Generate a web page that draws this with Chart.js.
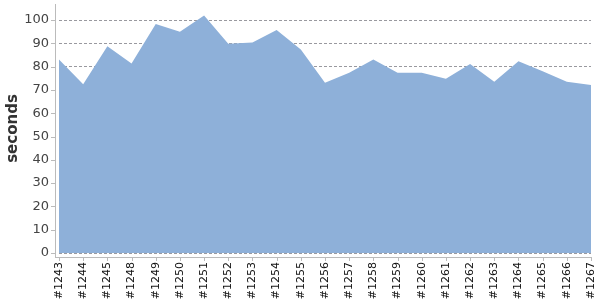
<!DOCTYPE html>
<html>
<head>
<meta charset="utf-8">
<script src="https://cdn.jsdelivr.net/npm/chart.js@4/dist/chart.umd.min.js"></script>
<style>
  html, body { margin: 0; padding: 0; background: #fff; }
  #wrap { width: 600px; height: 300px; }
</style>
</head>
<body>
<div id="wrap"><canvas id="c" width="600" height="300"></canvas></div>
<script>
const categories = ["#1243","#1244","#1245","#1248","#1249","#1250","#1251","#1252","#1253","#1254","#1255","#1256","#1257","#1258","#1259","#1260","#1261","#1262","#1263","#1264","#1265","#1266","#1267"];
const seconds = [83.1, 72.5, 88.8, 81.4, 98.3, 95.0, 102.0, 89.8, 90.4, 95.7, 87.4, 73.1, 77.4, 83.1, 77.4, 77.4, 74.8, 81.1, 73.5, 82.3, 78.0, 73.5, 72.1];
const yTicks = [0, 10, 20, 30, 40, 50, 60, 70, 80, 90, 100];
const yTitle = "seconds";

const axisPlugin = {
  id: 'axisLines',
  afterDraw(chart) {
    const ctx = chart.ctx;
    const a = chart.chartArea;
    const xs = chart.scales.x, ys = chart.scales.y;
    const ax = a.left - 4, ay = a.bottom + 4;
    ctx.save();
    ctx.strokeStyle = '#bbbbbb';
    ctx.lineWidth = 1;
    ctx.beginPath();
    ctx.moveTo(ax + 0.5, a.top);
    ctx.lineTo(ax + 0.5, ay + 0.5);
    ctx.moveTo(ax, ay + 0.5);
    ctx.lineTo(a.right, ay + 0.5);
    categories.forEach((c, i) => {
      const px = Math.round(xs.getPixelForValue(i)) + 0.5;
      ctx.moveTo(px, ay);
      ctx.lineTo(px, ay + 4);
    });
    yTicks.forEach(v => {
      const py = Math.round(ys.getPixelForValue(v)) + 0.5;
      ctx.moveTo(ax - 4, py);
      ctx.lineTo(ax, py);
    });
    ctx.stroke();
    ctx.restore();
  }
};

new Chart(document.getElementById('c'), {
  type: 'line',
  data: {
    labels: categories,
    datasets: [{
      data: seconds,
      fill: 'origin',
      backgroundColor: '#8eb0d9',
      borderColor: '#8eb0d9',
      borderWidth: 0,
      pointRadius: 0,
      tension: 0
    }]
  },
  options: {
    responsive: false,
    animation: false,
    devicePixelRatio: 1,
    layout: { padding: { top: 4, right: 9, left: 0, bottom: 0 } },
    plugins: { legend: { display: false }, tooltip: { enabled: false } },
    scales: {
      x: {
        offset: false,
        grid: { display: false, drawTicks: false },
        border: { display: false },
        ticks: {
          autoSkip: false,
          maxRotation: 90,
          minRotation: 90,
          padding: 9,
          color: '#111',
          font: { family: 'DejaVu Sans', size: 11 }
        },
        afterFit(s) { s.height = 47; s.paddingLeft = 0; s.paddingRight = 0; }
      },
      y: {
        min: 0,
        max: 106.9,
        z: 1,
        grid: {
          drawTicks: false,
          color: 'rgba(70,70,80,0.55)',
          lineWidth: 1
        },
        border: { display: false, dash: [3, 2] },
        ticks: {
          stepSize: 10,
          padding: 10,
          color: '#444',
          font: { family: 'DejaVu Sans', size: 13 }
        },
        afterBuildTicks(s) { s.ticks = yTicks.map(v => ({ value: v })); },
        title: {
          display: true,
          text: yTitle,
          color: '#333',
          font: { family: 'DejaVu Sans', size: 15, weight: 'bold' },
          padding: { top: 4, bottom: 0 }
        },
        afterFit(s) { s.width = 59; s.paddingTop = 0; s.paddingBottom = 0; }
      }
    }
  },
  plugins: [axisPlugin]
});
</script>
</body>
</html>
